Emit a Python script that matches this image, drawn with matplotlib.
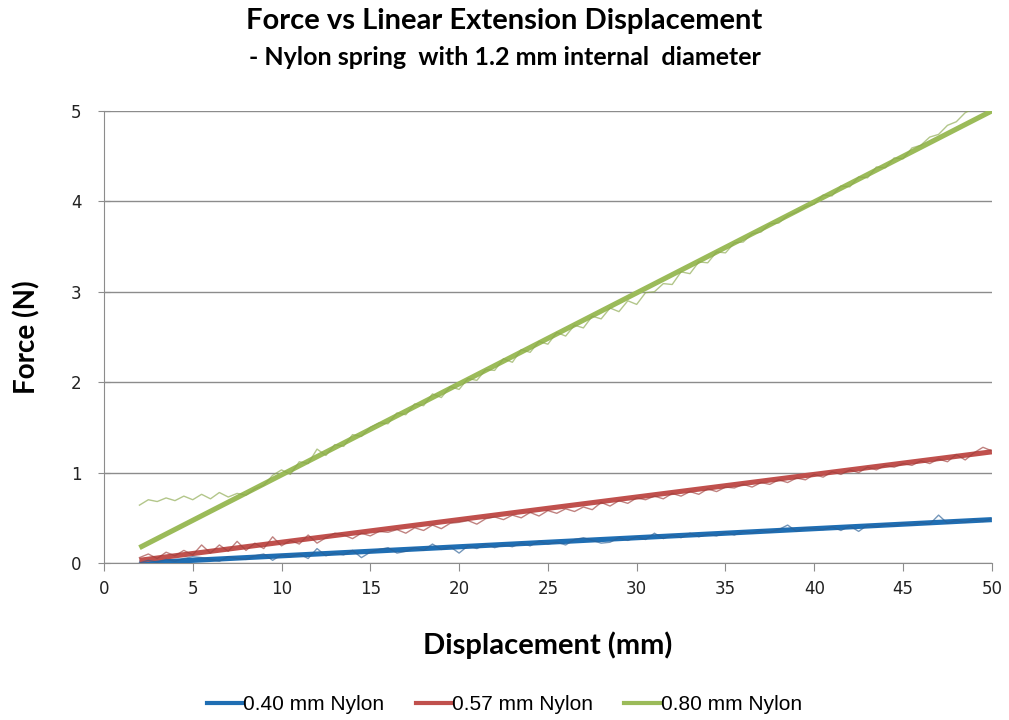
import matplotlib
matplotlib.use('Agg')
import matplotlib.pyplot as plt
import numpy as np
from matplotlib.lines import Line2D

# measured force (N), sampled every 0.5 mm from 2 to 50 mm
fuerza_040 = [0.00, 0.03, 0.01, 0.04, 0.02, 0.05, 0.07, 0.06, 0.04, 0.02,
              0.07, 0.05, 0.04, 0.08, 0.10, 0.03, 0.09, 0.07, 0.10, 0.05,
              0.16, 0.08, 0.11, 0.09, 0.14, 0.06, 0.12, 0.15, 0.17, 0.11,
              0.13, 0.17, 0.14, 0.21, 0.15, 0.18, 0.11, 0.19, 0.16, 0.21,
              0.17, 0.20, 0.18, 0.22, 0.19, 0.24, 0.21, 0.23, 0.20, 0.26,
              0.28, 0.25, 0.22, 0.23, 0.28, 0.25, 0.29, 0.26, 0.33, 0.27,
              0.31, 0.28, 0.33, 0.29, 0.32, 0.30, 0.34, 0.31, 0.35, 0.33,
              0.36, 0.34, 0.37, 0.42, 0.35, 0.39, 0.38, 0.37, 0.40, 0.36,
              0.41, 0.35, 0.42, 0.40, 0.43, 0.41, 0.44, 0.42, 0.45, 0.43,
              0.53, 0.44, 0.47, 0.45, 0.48, 0.46, 0.49]
fuerza_057 = [0.06, 0.10, 0.05, 0.12, 0.08, 0.14, 0.09, 0.20, 0.11, 0.20,
              0.13, 0.24, 0.14, 0.22, 0.16, 0.29, 0.19, 0.25, 0.21, 0.31,
              0.22, 0.28, 0.33, 0.31, 0.27, 0.33, 0.30, 0.35, 0.34, 0.37,
              0.33, 0.39, 0.36, 0.42, 0.38, 0.44, 0.45, 0.47, 0.43, 0.49,
              0.51, 0.48, 0.53, 0.50, 0.56, 0.52, 0.58, 0.55, 0.60, 0.57,
              0.62, 0.59, 0.67, 0.63, 0.69, 0.66, 0.72, 0.70, 0.74, 0.71,
              0.77, 0.74, 0.79, 0.76, 0.82, 0.79, 0.84, 0.83, 0.87, 0.84,
              0.89, 0.87, 0.92, 0.89, 0.94, 0.92, 0.98, 0.95, 1.01, 0.98,
              1.03, 1.00, 1.06, 1.03, 1.08, 1.06, 1.10, 1.08, 1.13, 1.10,
              1.15, 1.12, 1.20, 1.14, 1.22, 1.28, 1.24]
fuerza_080 = [0.64, 0.70, 0.68, 0.72, 0.69, 0.74, 0.70, 0.76, 0.71, 0.78,
              0.73, 0.77, 0.75, 0.82, 0.86, 0.97, 1.03, 0.98, 1.12, 1.10,
              1.26, 1.19, 1.31, 1.29, 1.42, 1.40, 1.50, 1.55, 1.54, 1.66,
              1.64, 1.76, 1.74, 1.87, 1.83, 1.95, 1.92, 2.04, 2.02, 2.14,
              2.13, 2.26, 2.22, 2.36, 2.33, 2.45, 2.42, 2.55, 2.51, 2.63,
              2.60, 2.73, 2.70, 2.82, 2.78, 2.90, 2.86, 2.99, 3.00, 3.09,
              3.08, 3.22, 3.20, 3.33, 3.32, 3.44, 3.43, 3.54, 3.55, 3.64,
              3.66, 3.75, 3.76, 3.84, 3.88, 3.94, 3.97, 4.07, 4.06, 4.17,
              4.16, 4.27, 4.26, 4.38, 4.37, 4.48, 4.47, 4.59, 4.62, 4.71,
              4.74, 4.84, 4.88, 4.98, 5.03, 5.05, 5.08]

# linear trend lines (end points)
tendencia_x = [2, 50]
tendencia_040 = [0.00, 0.48]
tendencia_057 = [0.03, 1.23]
tendencia_080 = [0.17, 5.00]

etiquetas = ['0.40 mm Nylon', '0.57 mm Nylon', '0.80 mm Nylon']
colores = ['#1F6EB3', '#C0504D', '#9BBB59']
colores_datos = ['#2a5f95', '#9e3f3c', '#8aa84c']

desplazamiento = np.linspace(2, 50, len(fuerza_040))

fig = plt.figure(figsize=(10.09, 7.2), dpi=100)
ax = fig.add_axes([0.103, 0.218, 0.880, 0.628])

series = [(fuerza_040, tendencia_040), (fuerza_057, tendencia_057), (fuerza_080, tendencia_080)]
for (datos, tend), c, cd in zip(series, colores, colores_datos):
    ax.plot(tendencia_x, tend, color=c, lw=3.7, solid_capstyle='butt', zorder=3)
    ax.plot(desplazamiento, datos, color=cd, lw=1.0, alpha=0.65, zorder=4)

ax.set_xlim(0, 50)
ax.set_ylim(0, 5)
ax.set_xticks(range(0, 51, 5))
ax.set_yticks(range(0, 6))
ax.yaxis.grid(True, color='#8c8c8c', lw=1)
ax.set_axisbelow(True)
for s in ['top', 'right']:
    ax.spines[s].set_visible(False)
for s in ['left', 'bottom']:
    ax.spines[s].set_color('#8c8c8c')
ax.tick_params(axis='both', colors='#8c8c8c', labelsize=12, labelcolor='#222222')
ax.tick_params(axis='x', length=6, pad=6)
ax.tick_params(axis='y', direction='inout', length=8, pad=12)

fig.text(0.5, 0.971, 'Force vs Linear Extension Displacement', ha='center', va='center',
         fontsize=21, fontweight='bold', family='Lato')
fig.text(0.5, 0.920, '- Nylon spring  with 1.2 mm internal  diameter', ha='center', va='center',
         fontsize=18, fontweight='bold', family='Lato')
ax.set_xlabel('Displacement (mm)', fontsize=21, fontweight='bold', family='Lato', labelpad=24)
ax.set_ylabel('Force (N)', fontsize=20, fontweight='bold', family='Lato', labelpad=22)

handles = [Line2D([], [], color=c, lw=3) for c in colores]
fig.legend(handles, etiquetas, loc='center', bbox_to_anchor=(0.5, 0.021), ncol=3,
           frameon=False, handlelength=1.7, handletextpad=0.05, columnspacing=1.5,
           prop={'family': 'Liberation Sans', 'size': 15})

fig.savefig('out.png', dpi=100)
